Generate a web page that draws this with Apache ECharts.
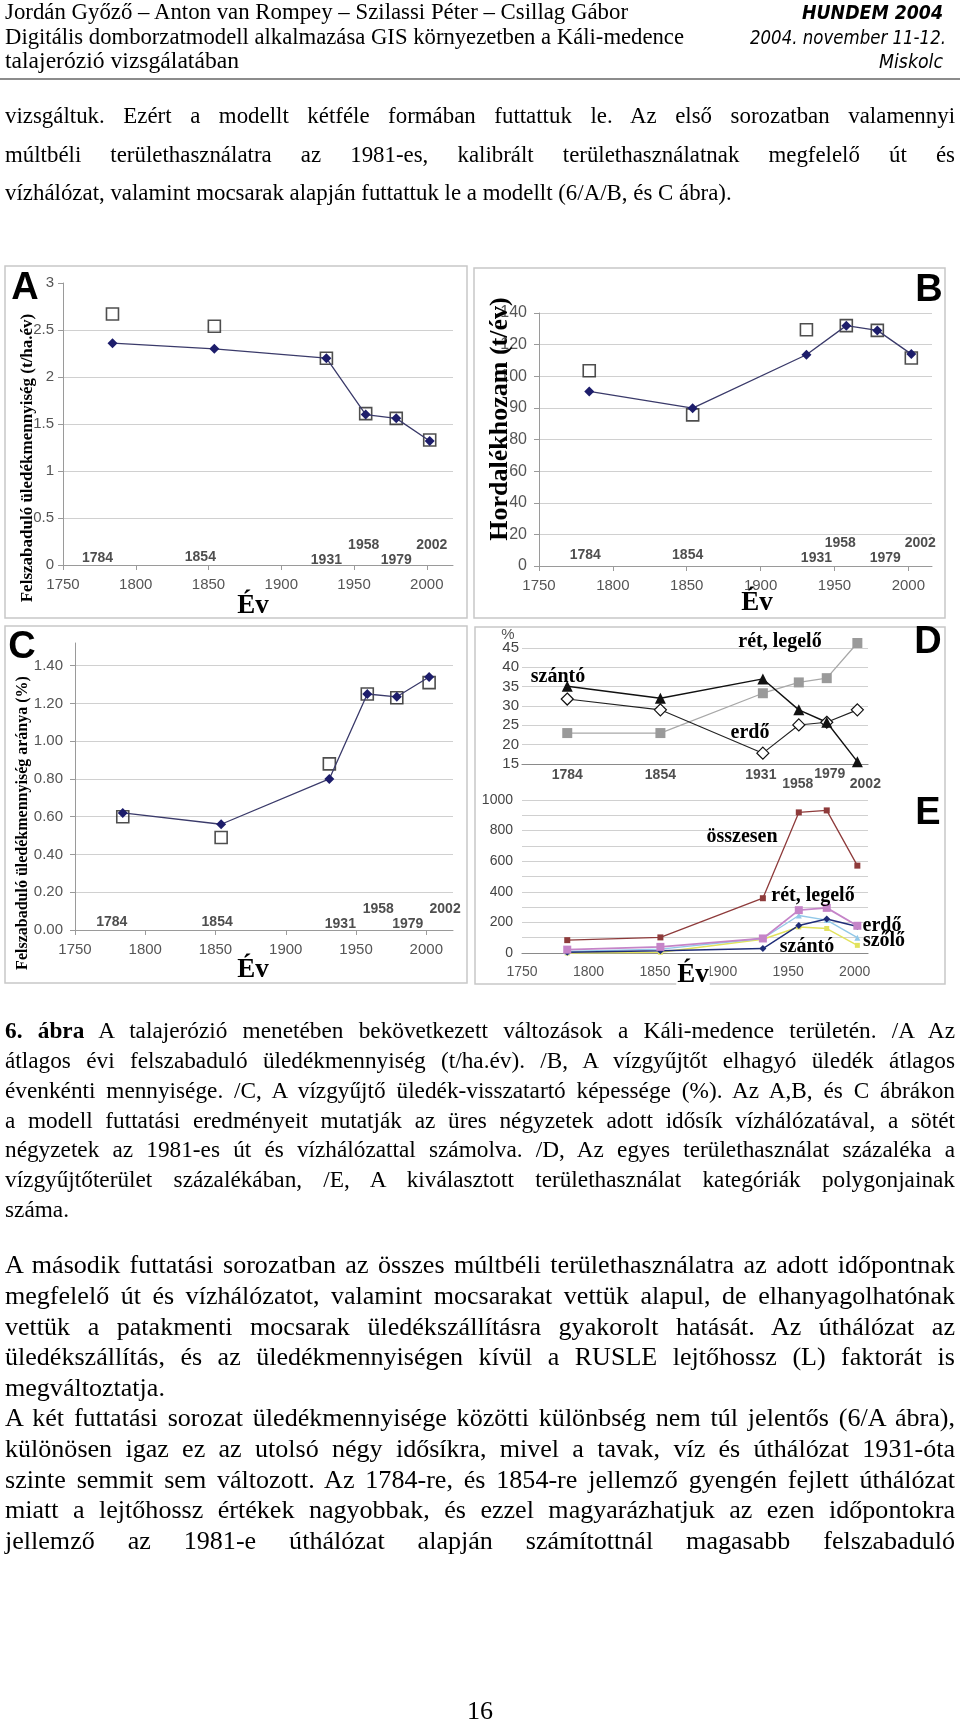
<!DOCTYPE html>
<html><head><meta charset="utf-8">
<script src="https://cdn.jsdelivr.net/npm/echarts@6/dist/echarts.min.js"></script>
<style>
html,body{margin:0;padding:0;background:#fff;}
#page{position:relative;width:960px;height:1726px;overflow:hidden;background:#fff;}
#chart{position:absolute;left:0;top:0;width:960px;height:1726px;}
.tl{position:absolute;white-space:nowrap;color:#000;transform-origin:0 50%;z-index:2;}
</style></head><body>
<div id="page"><div id="chart"></div></div>
<script>
// ---------------- DATA ----------------
const years = [1784, 1854, 1931, 1958, 1979, 2002];
// A: felszabaduló üledékmennyiség (t/ha.év)
const aNetwork1981 = [2.36, 2.30, 2.20, 1.60, 1.56, 1.32];   // sötét négyzetek (1981-es hálózat)
const aNetworkPeriod = [2.67, 2.54, 2.20, 1.61, 1.56, 1.33]; // üres négyzetek (adott idősík)
// B: hordalékhozam (axis units 0..160, tick labels below)
const bTickLabels = ['0', '20', '40', '60', '80', '90', '100', '120', '140'];
const bNetwork1981 = [110.4, 99.8, 133.6, 152, 149, 134];
const bNetworkPeriod = [123.5, 95.6, 149.4, 152, 149, 131.5];
// C: üledékmennyiség aránya (%)
const cNetwork1981 = [0.62, 0.56, 0.80, 1.25, 1.235, 1.34];
const cNetworkPeriod = [0.60, 0.49, 0.88, 1.25, 1.23, 1.31];
// D: területhasználat %
const dSzanto = [35.1, 32.0, 37.0, 29.0, 25.8, 15.6];
const dErdo = [31.8, 29.0, 17.8, 25.1, 25.8, 29.0];
const dRet = [23.0, 23.0, 33.3, 36.1, 37.2, 46.3];
// E: polygonok száma
const eOsszesen = [84, 102, 358, 919, 932, 571];
const eErdo = [22, 40, 95, 280, 295, 178];
const eRet = [10, 25, 95, 245, 215, 100];
const eSzolo = [0, 5, 90, 170, 160, 50];
const eSzanto = [5, 15, 29, 180, 222, 173];

// ---------------- TEXT ----------------
const headerLeft = ['Jordán Győző – Anton van Rompey – Szilassi Péter – Csillag Gábor',
  'Digitális domborzatmodell alkalmazása GIS környezetben a Káli-medence',
  'talajerózió vizsgálatában'];
const headerRight = ['HUNDEM 2004', '2004. november 11-12.', 'Miskolc'];
const body1 = ['vizsgáltuk. Ezért a modellt kétféle formában futtattuk le. Az első sorozatban valamennyi',
  'múltbéli területhasználatra az 1981-es, kalibrált területhasználatnak megfelelő út és',
  'vízhálózat, valamint mocsarak alapján futtattuk le a modellt (6/A/B, és C ábra).'];
const caption = ['<b>6. ábra</b> A talajerózió menetében bekövetkezett változások a Káli-medence területén. /A Az',
  'átlagos évi felszabaduló üledékmennyiség (t/ha.év). /B, A vízgyűjtőt elhagyó üledék átlagos',
  'évenkénti mennyisége. /C, A vízgyűjtő üledék-visszatartó képessége (%). Az A,B, és C ábrákon',
  'a modell futtatási eredményeit mutatják az üres négyzetek adott idősík vízhálózatával, a sötét',
  'négyzetek az 1981-es út és vízhálózattal számolva. /D, Az egyes területhasználat százaléka a',
  'vízgyűjtőterület százalékában, /E, A kiválasztott területhasználat kategóriák polygonjainak',
  'száma.'];
const body2 = ['A második futtatási sorozatban az összes múltbéli területhasználatra az adott időpontnak',
  'megfelelő út és vízhálózatot, valamint mocsarakat vettük alapul, de elhanyagolhatónak',
  'vettük a patakmenti mocsarak üledékszállításra gyakorolt hatását. Az úthálózat az',
  'üledékszállítás, és az üledékmennyiségen kívül a RUSLE lejtőhossz (L) faktorát is',
  'megváltoztatja.',
  'A két futtatási sorozat üledékmennyisége közötti különbség nem túl jelentős (6/A ábra),',
  'különösen igaz ez az utolsó négy idősíkra, mivel a tavak, víz és úthálózat 1931-óta',
  'szinte semmit sem változott. Az 1784-re, és 1854-re jellemző gyengén fejlett úthálózat',
  'miatt a lejtőhossz értékek nagyobbak, és ezzel magyarázhatjuk az ezen időpontokra',
  'jellemző az 1981-e úthálózat alapján számítottnál magasabb felszabaduló'];
const lastLines1 = [2], lastLinesCap = [6], lastLines2 = [4];

const SERIF = '"Liberation Serif", "Times New Roman", serif';
const SANS = '"Liberation Sans", Arial, sans-serif';
const page = document.getElementById('page');

function mk(html, font, size, opt) {
  opt = opt || {};
  const s = document.createElement('span');
  s.className = 'tl';
  s.innerHTML = html;
  s.style.fontFamily = font;
  s.style.fontSize = size + 'px';
  s.style.lineHeight = (size * 1.2) + 'px';
  if (opt.italic) s.style.fontStyle = 'italic';
  if (opt.weight) s.style.fontWeight = opt.weight;
  return s;
}
function place(html, font, size, o) {
  const s = mk(html, font, size, o);
  s.style.left = o.x + 'px';
  s.style.top = (o.y - 0.64 * size) + 'px';
  page.appendChild(s);
  const w = s.getBoundingClientRect().width;
  if (o.mode === 'justify') {
    const gaps = (s.textContent.match(/ /g) || []).length;
    const extra = o.width - w;
    if (extra >= 0 && gaps > 0) s.style.wordSpacing = (extra / gaps) + 'px';
    else s.style.transform = 'scaleX(' + (o.width / w) + ')';
  } else if (o.mode === 'fit') {
    s.style.transform = 'scaleX(' + (o.width / w) + ')';
  } else if (o.mode === 'center') {
    s.style.left = (o.cx - w / 2) + 'px';
  }
  return s;
}
function calibrate(text, font, target) {
  const s = mk(text, font, 20);
  page.appendChild(s);
  const w = s.getBoundingClientRect().width;
  page.removeChild(s);
  return 20 * target / w;
}

// header
const hlY = [13, 38, 62], hlEnd = [628, 684, 239];
headerLeft.forEach((t, i) => place(t, SERIF, 23, {x: 5, y: hlY[i], mode: 'fit', width: hlEnd[i] - 5}));
const hrStart = [802, 750, 879], hrEnd = [943, 946, 943];
headerRight.forEach((t, i) => place(t, '"DejaVu Sans", sans-serif', 19, {x: hrStart[i], y: hlY[i], italic: true, weight: i === 0 ? 'bold' : 'normal', mode: 'fit', width: hrEnd[i] - hrStart[i]}));

function paragraph(lines, lastIdx, y0, dy, size) {
  lines.forEach((t, i) => {
    const isLast = lastIdx.indexOf(i) >= 0;
    place(t, SERIF, size, {x: 5, y: y0 + dy * i, mode: isLast ? 'none' : 'justify', width: 950});
  });
}
const fs1 = calibrate(body1[2], SERIF, 727);
paragraph(body1, lastLines1, 117, 38.5, fs1);
const fsCap = calibrate('száma.', SERIF, 64);
paragraph(caption, lastLinesCap, 1032, 29.8, fsCap);
const fs2 = calibrate(body2[4], SERIF, 160);
paragraph(body2, lastLines2, 1266, 30.6, fs2);
place('16', SERIF, fs2, {y: 1712, mode: 'center', cx: 480});

// ---------------- CHART ----------------
const chart = echarts.init(document.getElementById('chart'), null, {renderer: 'canvas'});
const axisGray = '#9a9a9a', gridGray = '#d0d0d0', lblGray = '#555';
const navy = '#1d1d6b', navyLine = '#3a3a6a';

const grids = [
  {left: 63, top: 283, width: 390, height: 282},   // A
  {left: 539, top: 313, width: 393, height: 253},  // B
  {left: 75, top: 643, width: 378, height: 287},   // C
  {left: 522, top: 648, width: 346, height: 116},  // D
  {left: 522, top: 800, width: 346, height: 153}   // E
];

const plain = v => String(v);
function xYear(gi, max, o) {
  return Object.assign({
    type: 'value', gridIndex: gi, min: 1750, max: max, interval: 50,
    axisLine: {show: true, onZero: false, lineStyle: {color: axisGray, width: 1}},
    axisTick: {show: true, length: 5, lineStyle: {color: axisGray}},
    axisLabel: {show: true, color: lblGray, fontFamily: SANS, fontSize: 15, margin: 12, showMaxLabel: false, formatter: plain},
    splitLine: {show: false}
  }, o || {});
}
function yVal(gi, o) {
  return Object.assign({
    type: 'value', gridIndex: gi,
    axisLine: {show: true, onZero: false, lineStyle: {color: axisGray, width: 1}},
    axisTick: {show: true, length: 5, lineStyle: {color: axisGray}},
    axisLabel: {color: lblGray, fontFamily: SANS, fontSize: 15, margin: 9, formatter: plain},
    splitLine: {show: true, showMaxLine: true, lineStyle: {color: gridGray, width: 1}}
  }, o);
}

const xAxes = [
  xYear(0, 2018),
  xYear(1, 2016),
  xYear(2, 2019),
  xYear(3, 2010, {axisLabel: {show: false}, axisTick: {show: false}, axisLine: {show: true, onZero: false, lineStyle: {color: '#8a8a8a', width: 1.2}}}),
  xYear(4, 2010, {axisTick: {show: false}, axisLine: {show: true, onZero: false, lineStyle: {color: '#8a8a8a', width: 1.2}},
    axisLabel: {show: true, color: lblGray, fontFamily: SANS, fontSize: 14, margin: 12, showMaxLabel: false, formatter: plain}})
];
const yAxes = [
  yVal(0, {min: 0, max: 3, interval: 0.5, splitLine: {show: true, showMaxLine: false, lineStyle: {color: gridGray}}}),
  yVal(1, {min: 0, max: 160, interval: 20,
    axisLabel: {color: lblGray, fontFamily: SANS, fontSize: 16, margin: 12, formatter: v => bTickLabels[Math.round(v / 20)]},
    splitLine: {show: true, lineStyle: {color: gridGray}}}),
  yVal(2, {min: 0, max: 1.52, interval: 0.2,
    axisLabel: {color: lblGray, fontFamily: SANS, fontSize: 15, margin: 12, showMaxLabel: false, formatter: v => v.toFixed(2)},
    splitLine: {show: true, showMaxLine: false, lineStyle: {color: gridGray}}}),
  yVal(3, {min: 15, max: 45, interval: 5, axisLine: {show: false}, axisTick: {show: false},
    axisLabel: {color: '#444', fontFamily: SANS, fontSize: 15, margin: 3, formatter: plain},
    splitLine: {show: true, lineStyle: {color: gridGray}}}),
  yVal(4, {min: 0, max: 1000, interval: 100, axisLine: {show: false}, axisTick: {show: false},
    axisLabel: {color: '#444', fontFamily: SANS, fontSize: 14, margin: 9, formatter: v => (v % 200 === 0 ? String(v) : '')},
    splitLine: {show: true, lineStyle: {color: gridGray}}})
];

function pairs(vals) { return years.map((y, i) => [y, vals[i]]); }
function squares(gi, vals) {
  return {type: 'scatter', xAxisIndex: gi, yAxisIndex: gi, data: pairs(vals), symbol: 'rect', symbolSize: 12, z: 3, clip: false,
    itemStyle: {color: 'rgba(255,255,255,0)', borderColor: '#222', borderWidth: 1.6}};
}
function diamonds(gi, vals) {
  return {type: 'line', xAxisIndex: gi, yAxisIndex: gi, data: pairs(vals), symbol: 'diamond', symbolSize: 10, z: 4, clip: false,
    itemStyle: {color: navy}, lineStyle: {color: navyLine, width: 1.3}};
}
function yearLabels(gi, yv, offsets, color) {
  return {type: 'scatter', xAxisIndex: gi, yAxisIndex: gi, symbolSize: 0, silent: true, z: 6, clip: false,
    data: years.map((yr, i) => ({value: [yr, yv], label: {offset: offsets[i]}})),
    label: {show: true, position: 'inside', formatter: p => String(p.value[0]),
      fontFamily: SANS, fontWeight: 'bold', fontSize: 14, color: color || '#222'}};
}
function eLine(vals, color, symbol, size, width) {
  return {type: 'line', xAxisIndex: 4, yAxisIndex: 4, data: pairs(vals), symbol: symbol, symbolSize: size, clip: false,
    itemStyle: {color: color}, lineStyle: {color: color, width: width || 1.4}};
}

const series = [
  squares(0, aNetworkPeriod), diamonds(0, aNetwork1981),
  yearLabels(0, 0, [[-15, -7], [-14, -8], [0, -5], [-2, -20], [0, -5], [2, -20]]),
  squares(1, bNetworkPeriod), diamonds(1, bNetwork1981),
  yearLabels(1, 0, [[-4, -11], [-5, -11], [10, -8], [-6, -23], [8, -8], [9, -23]]),
  squares(2, cNetworkPeriod), diamonds(2, cNetwork1981),
  yearLabels(2, 0, [[-11, -8], [-4, -8], [11, -6], [11, -21], [11, -6], [16, -21]]),
  {type: 'line', xAxisIndex: 3, yAxisIndex: 3, data: pairs(dRet), symbol: 'rect', symbolSize: 10, clip: false,
    itemStyle: {color: '#9a9a9a'}, lineStyle: {color: '#a8a8a8', width: 1.3}},
  {type: 'line', xAxisIndex: 3, yAxisIndex: 3, data: pairs(dErdo), symbol: 'diamond', symbolSize: 12, clip: false,
    itemStyle: {color: '#fff', borderColor: '#111', borderWidth: 1.2}, lineStyle: {color: '#222', width: 1.1}},
  {type: 'line', xAxisIndex: 3, yAxisIndex: 3, data: pairs(dSzanto), symbol: 'triangle', symbolSize: 11, clip: false,
    itemStyle: {color: '#111'}, lineStyle: {color: '#111', width: 1.4}},
  yearLabels(3, 15, [[0, 11], [0, 11], [-2, 11], [-1, 20], [3, 10], [8, 20]]),
  eLine(eSzolo, '#e2e25c', 'rect', 5),
  eLine(eRet, '#92c8e8', 'triangle', 6),
  eLine(eSzanto, '#1f2d78', 'diamond', 7),
  eLine(eErdo, '#c584c8', 'rect', 8, 1.8),
  eLine(eOsszesen, '#8e3b3b', 'rect', 6, 1.3)
];

function box(x, y, w, h) {
  return {type: 'rect', shape: {x: x, y: y, width: w, height: h}, style: {fill: null, stroke: '#c8c8c8', lineWidth: 1.5}, z: 1, silent: true};
}
function txt(text, x, y, font, o) {
  return Object.assign({type: 'text', x: x, y: y, z: 20, silent: true,
    style: Object.assign({text: text, font: font, fill: '#000', align: 'center', verticalAlign: 'middle'}, (o && o.style) || {})},
    (o && o.el) || {});
}
const bigF = 'bold 38px ' + SANS;
const evF = 'bold 27px ' + SERIF;
const lblF = 'bold 20px ' + SERIF;
const graphic = [
  {type: 'line', shape: {x1: 0, y1: 79, x2: 960, y2: 79}, style: {stroke: '#666', lineWidth: 1.4}, silent: true},
  box(5, 266, 462, 352), box(474, 268, 471, 350), box(5, 626, 462, 357), box(475, 627, 470, 357),
  txt('A', 25, 289, bigF), txt('B', 929, 291, bigF), txt('C', 22, 648, bigF), txt('D', 928, 643, bigF), txt('E', 928, 814, bigF),
  txt('Felszabaduló üledékmennyiség (t/ha.év)', 28, 458, 'bold 17px ' + SERIF, {el: {rotation: Math.PI / 2}}),
  txt('Hordalékhozam (t/év)', 500, 419, 'bold 26px ' + SERIF, {el: {rotation: Math.PI / 2}}),
  txt('Felszabaduló üledékmennyiség aránya (%)', 23, 823, 'bold 16px ' + SERIF, {el: {rotation: Math.PI / 2}}),
  txt('Év', 253, 606, evF), txt('Év', 757, 603, evF), txt('Év', 253, 970, evF),
  txt('Év', 693, 975, evF, {style: {backgroundColor: '#fff', padding: [0, 1, 0, 1]}}),
  txt('%', 508, 635, '15px ' + SANS, {style: {fill: '#555'}}),
  txt('szántó', 558, 677, lblF), txt('rét, legelő', 780, 642, lblF), txt('erdő', 750, 733, lblF),
  txt('összesen', 742, 837, lblF), txt('rét, legelő', 813, 896, lblF), txt('erdő', 882, 926, lblF),
  txt('szőlő', 884, 941, lblF), txt('szántó', 807, 947, lblF)
];

chart.setOption({
  animation: false,
  backgroundColor: 'rgba(0,0,0,0)',
  grid: grids,
  xAxis: xAxes,
  yAxis: yAxes,
  series: series,
  graphic: graphic
});
</script>
</body></html>
